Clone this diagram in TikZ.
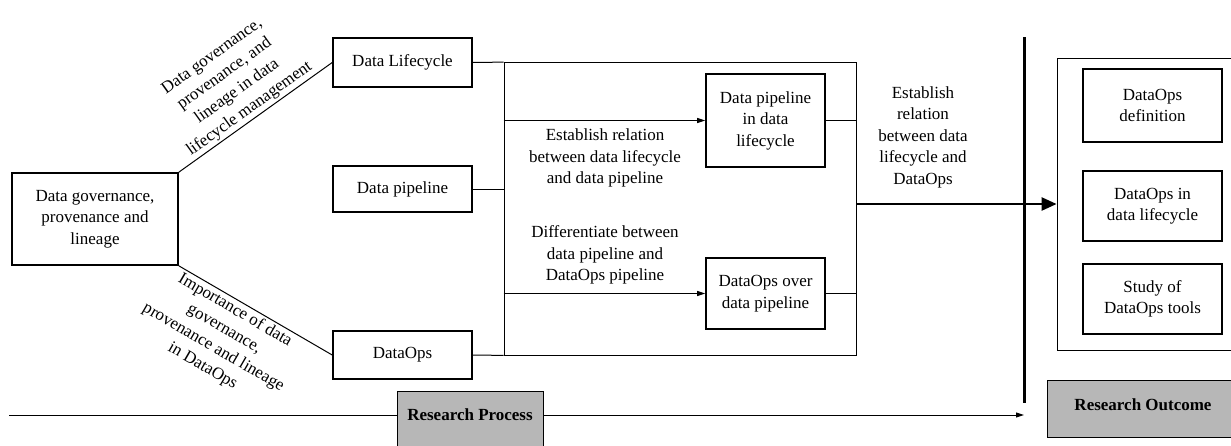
\documentclass[tikz,border=0pt]{standalone}
\usepackage{fontspec}
\setmainfont{Liberation Serif}
\usepackage{tikz}
\usetikzlibrary{arrows.meta,positioning}
\definecolor{stagegray}{RGB}{183,183,183}

\begin{document}
\begin{tikzpicture}[x=1pt,y=-1pt,
  every node/.style={font=\fontsize{17}{21.5}\selectfont, align=center, inner sep=0pt},
  topic/.style={draw, line width=1.6pt, minimum width=139pt},
  frame/.style={draw, line width=0.8pt},
  stage/.style={draw, line width=0.8pt, fill=stagegray, font=\fontsize{17}{21.5}\selectfont\bfseries},
  link/.style={line width=1pt},
  tip/.style={-{Triangle[length=8pt,width=5pt]}}]
\useasboundingbox (0,0) rectangle (1231,445);

% Research process
\node[topic, minimum width=166pt, minimum height=92pt] (gov) at (95,219) {Data governance,\\ provenance and\\ lineage};
\node[topic, minimum height=49pt] (life) at (402.5,62.5) {Data Lifecycle};
\node[topic, minimum height=46pt] (pipe) at (402.5,189) {Data pipeline};
\node[topic, minimum height=48pt] (ops) at (402.5,355) {DataOps};

\node[frame, minimum width=352pt, minimum height=292.5pt] (relate) at (680,208.75) {};
\node[topic, minimum width=119pt, minimum height=93pt] (inlife) at (765.5,120.5) {Data pipeline\\ in data\\ lifecycle};
\node[topic, minimum width=119pt, minimum height=71pt] (over) at (765.5,293.5) {DataOps over\\ data pipeline};
\node (relnote) at (605,158) {Establish relation\\ between data lifecycle\\ and data pipeline};
\node (diffnote) at (605,255) {Differentiate between\\ data pipeline and\\ DataOps pipeline};
\node (opsnote) at (923,137) {Establish\\ relation\\ between data\\ lifecycle and\\ DataOps};

% Research outcome
\node[frame, minimum width=183pt, minimum height=292pt] (result) at (1148.5,204) {};
\node[topic, minimum height=73pt] (def) at (1152.5,105.5) {DataOps\\ definition};
\node[topic, minimum height=70pt] (inlc) at (1152.5,206) {DataOps in\\ data lifecycle};
\node[topic, minimum height=70pt] (tools) at (1152.5,299) {Study of\\ DataOps tools};

\node[stage, minimum width=146pt, minimum height=57pt, text depth=9pt] (process) at (470,419.5) {Research Process};
\node[stage, minimum width=192pt, minimum height=57pt, text depth=7pt] (outcome) at (1143,408.5) {Research Outcome};

% Connectors
\draw[link] (gov.north east) -- node[midway, sloped, above, inner sep=2pt] {Data governance,\\ provenance, and\\ lineage in data\\ lifecycle management} (life.west);
\draw[link] (gov.south east) -- node[pos=.4, sloped, below, inner sep=2pt] {Importance of data\\ governance,\\ provenance and lineage\\ in DataOps} (ops.west);
\draw[link] (life.east) -- (relate.north west);
\draw[link] (pipe.east) -- (relate.west |- pipe.east);
\draw[link] (ops.east) -- (relate.south west);
\draw[link, tip] (relate.west |- inlife.west) -- (inlife.west);
\draw[link, tip] (relate.west |- over.west) -- (over.west);
\draw[link] (inlife.east) -- (relate.east |- inlife.east);
\draw[link] (over.east) -- (relate.east |- over.east);
\draw[line width=2.4pt, -{Triangle[length=15pt,width=13pt]}] (relate.east |- result.west) -- (result.west);

% Divider and timeline
\coordinate (divtop) at (1024,37);
\coordinate (divbot) at (1024,403);
\coordinate (start) at (9,415);
\draw[line width=3pt] (divtop) -- (divbot);
\draw[link] (start) -- (process.west |- start);
\draw[link, tip] (process.east |- start) -- (divbot |- start);
\end{tikzpicture}
\end{document}
